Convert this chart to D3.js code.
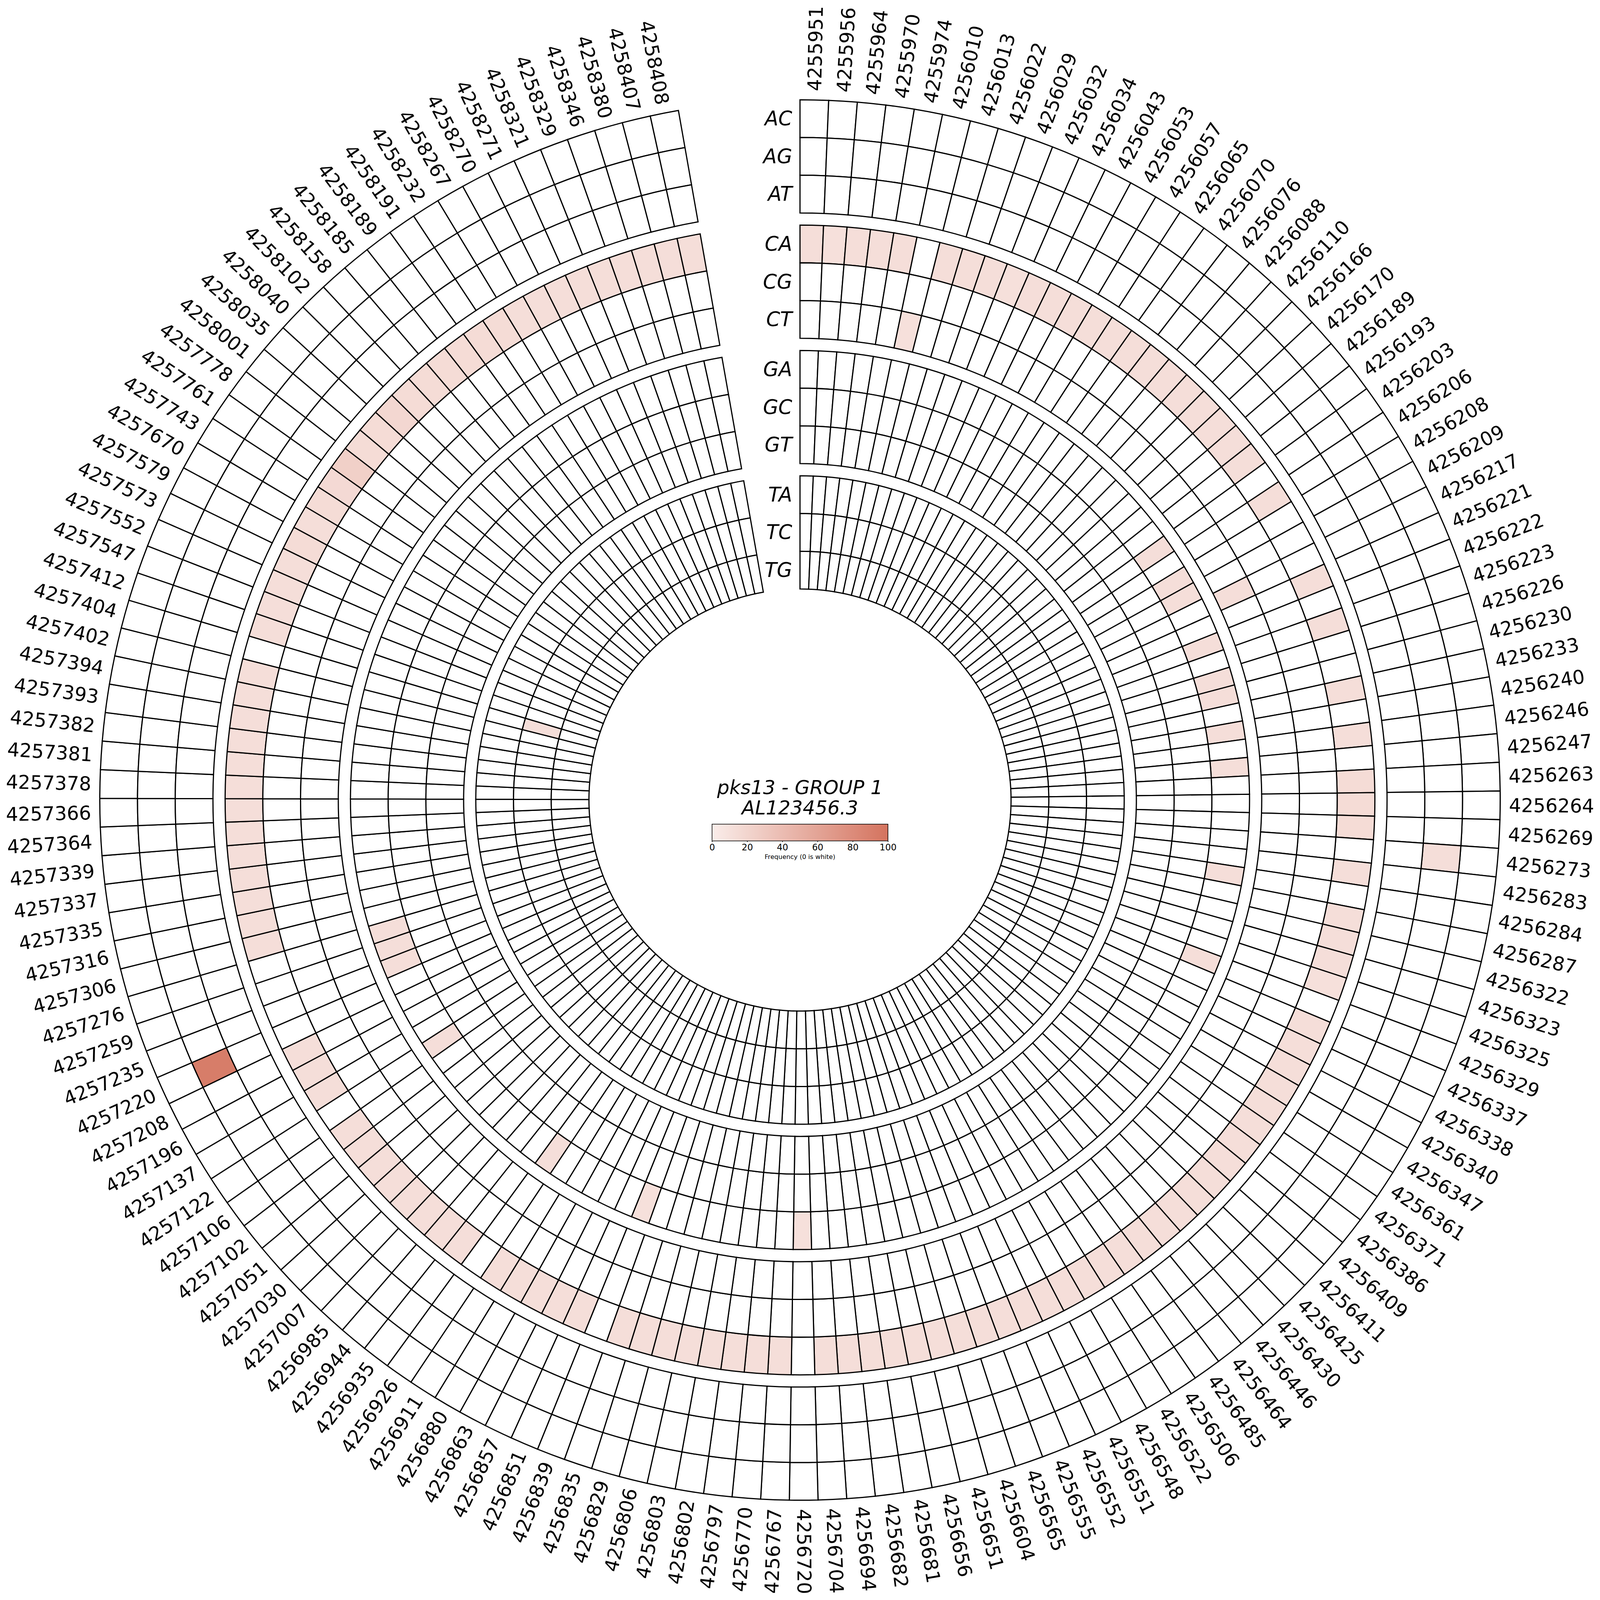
<!DOCTYPE html>
<html>
<head>
<meta charset="UTF-8">
<title>pks13 - GROUP 1</title>
<script src="https://d3js.org/d3.v7.min.js"></script>
<style>
  html, body { margin: 0; padding: 0; background: #fff; overflow: hidden; }
  svg { display: block; width: 100vw; height: 100vh; }
  text { font-family: "DejaVu Sans", sans-serif; }
</style>
</head>
<body>
<svg id="chart" viewBox="0 0 6766 6766" preserveAspectRatio="xMidYMid meet"></svg>
<script>

// genome positions, clockwise from the top
var positions = [
  "4255951","4255956","4255964","4255970","4255974","4256010","4256013","4256022","4256029","4256032",
  "4256034","4256043","4256053","4256057","4256065","4256070","4256076","4256088","4256110","4256166",
  "4256170","4256189","4256193","4256203","4256206","4256208","4256209","4256217","4256221","4256222",
  "4256223","4256226","4256230","4256233","4256240","4256246","4256247","4256263","4256264","4256269",
  "4256273","4256283","4256284","4256287","4256322","4256323","4256325","4256329","4256337","4256338",
  "4256340","4256347","4256361","4256371","4256386","4256409","4256411","4256425","4256430","4256446",
  "4256464","4256485","4256506","4256522","4256548","4256551","4256552","4256555","4256565","4256604",
  "4256651","4256656","4256681","4256682","4256694","4256704","4256720","4256767","4256770","4256797",
  "4256802","4256803","4256806","4256829","4256835","4256839","4256851","4256857","4256863","4256880",
  "4256911","4256926","4256935","4256944","4256985","4257007","4257030","4257051","4257102","4257106",
  "4257122","4257137","4257196","4257208","4257220","4257235","4257259","4257276","4257306","4257316",
  "4257335","4257337","4257339","4257364","4257366","4257378","4257381","4257382","4257393","4257394",
  "4257402","4257404","4257412","4257547","4257552","4257573","4257579","4257670","4257743","4257761",
  "4257778","4258001","4258035","4258040","4258102","4258158","4258185","4258189","4258191","4258232",
  "4258267","4258270","4258271","4258321","4258329","4258346","4258380","4258407","4258408"
];

// tracks, outer to inner
var mutations = ["AC","AG","AT","CA","CG","CT","GA","GC","GT","TA","TC","TG"];

// the one substitution seen at each position
var hitType = [
  "CA","CA","CA","CA","CA","CT","CA","CA","CA","CA",
  "CA","CA","CA","CA","CA","CA","CA","CA","CA","CA",
  "CA","CA","CA","GA","CA","GA","GA","CT","CA","GA",
  "CA","GA","GA","CA","GA","CA","GA","CA","CA","CA",
  "AG","CA","GA","CA","CA","CA","CA","GA","CA","CA",
  "CA","CA","CA","CA","CA","CA","CA","CA","CA","CA",
  "CA","CA","CA","CA","CA","CA","CA","CA","CA","CA",
  "CA","CA","CA","CA","CA","CA","GA","CA","CA","CA",
  "CA","CA","CA","CA","CA","GA","CA","CA","CA","CA",
  "CA","GA","CA","CA","CA","CA","CA","CA","CA","CA",
  "GA","CA","CA","CA","AG","GA","GA","GA","CA","CA",
  "CA","CA","CA","CA","CA","CA","CA","CA","CA","CA",
  "CA","TC","CA","CA","CA","CA","CA","CA","CA","CA",
  "CA","CA","CA","CA","CA","CA","CA","CA","CA","CA",
  "CA","CA","CA","CA","CA","CA","CA","CA","CA"
];

// its frequency (%)
var hitFreq = [
  12, 11, 12, 12, 12, 11, 12, 12, 12, 11,
  12, 12, 12, 12, 12, 12, 12, 12, 12, 12,
  12, 12, 12, 12, 12, 12, 12, 12, 12, 12,
  12, 12, 12, 12, 12, 12, 12, 14, 14, 14,
  12, 12, 12, 12, 12, 12, 11, 12, 12, 12,
  12, 12, 12, 12, 12, 12, 12, 12, 12, 12,
  12, 12, 12, 12, 12, 12, 12, 12, 12, 12,
  12, 12, 12, 12, 12, 12, 11, 12, 12, 12,
  12, 12, 12, 12, 12, 11, 12, 12, 12, 12,
  12, 12, 12, 12, 12, 12, 12, 12, 12, 12,
  12, 12, 12, 12, 92, 12, 12, 12, 12, 12,
  12, 12, 12, 12, 12, 12, 12, 12, 12, 12,
  12, 12, 12, 12, 12, 12, 14, 12, 14, 16,
  24, 14, 14, 18, 14, 14, 14, 14, 14, 14,
  12, 12, 12, 12, 12, 12, 12, 12, 12
];

var cbTicks = [0, 20, 40, 60, 80, 100];

var cx = 3383, cy = 3383;
var rOuter = 2961, rowW = 159.5, groupStep = 530;
var rLabel = 2998;

var svg = d3.select("#chart");

var color = d3.scaleLinear()
  .domain([0, 100])
  .range(["#faedea", "#d4735e"]);

var ang = d3.scaleBand()
  .domain(positions)
  .range([0, 350 / 180 * Math.PI]);

function rOut(j) {
  return rOuter - Math.floor(j / 3) * groupStep - (j % 3) * rowW;
}

var cells = [];
positions.forEach(function(p, i) {
  mutations.forEach(function(m, j) {
    cells.push({pos: p, j: j, v: hitType[i] == m ? hitFreq[i] : 0});
  });
});

var arc = d3.arc()
  .innerRadius(function(d) { return rOut(d.j) - rowW; })
  .outerRadius(function(d) { return rOut(d.j); })
  .startAngle(function(d) { return ang(d.pos); })
  .endAngle(function(d) { return ang(d.pos) + ang.bandwidth(); });

var g = svg.append("g").attr("transform", "translate(" + cx + "," + cy + ")");

g.selectAll("path.cell")
  .data(cells)
  .enter().append("path")
    .attr("class", "cell")
    .attr("d", arc)
    .style("fill", function(d) { return d.v > 0 ? color(d.v) : "#ffffff"; })
    .style("stroke", "black")
    .style("stroke-width", 5);

// position labels
function midDeg(p) { return (ang(p) + ang.bandwidth() / 2) * 180 / Math.PI; }

g.selectAll("text.pos")
  .data(positions)
  .enter().append("text")
    .attr("class", "pos")
    .attr("transform", function(d) {
      var a = midDeg(d);
      var t = "rotate(" + (a - 90) + ") translate(" + rLabel + ",0)";
      return a < 180 ? t : t + " rotate(180)";
    })
    .attr("text-anchor", function(d) { return midDeg(d) < 180 ? "start" : "end"; })
    .attr("dominant-baseline", "central")
    .style("font-size", "81px")
    .text(function(d) { return d; });

// track names
g.selectAll("text.track")
  .data(mutations)
  .enter().append("text")
    .attr("class", "track")
    .attr("x", -33)
    .attr("y", function(d, j) { return -(rOut(j) - rowW / 2); })
    .attr("text-anchor", "end")
    .attr("dominant-baseline", "central")
    .style("font-size", "84px")
    .style("font-style", "italic")
    .text(function(d) { return d; });

// title
var title = ["pks13 - GROUP 1", "AL123456.3"];
svg.selectAll("text.title")
  .data(title)
  .enter().append("text")
    .attr("class", "title")
    .attr("x", cx)
    .attr("y", function(d, i) { return 3358 + i * 86; })
    .attr("text-anchor", "middle")
    .style("font-size", "82px")
    .style("font-style", "italic")
    .text(function(d) { return d; });

// colour bar
var cbX = d3.scaleLinear().domain([0, 100]).range([3011, 3755]);
var cbTop = 3485, cbH = 71;

var grad = svg.append("defs").append("linearGradient")
  .attr("id", "cbGrad")
  .attr("x1", "0%").attr("x2", "100%").attr("y1", "0%").attr("y2", "0%");
grad.selectAll("stop")
  .data(cbTicks)
  .enter().append("stop")
    .attr("offset", function(d) { return d + "%"; })
    .attr("stop-color", function(d) { return color(d); });

svg.append("rect")
  .attr("x", cbX(0))
  .attr("y", cbTop)
  .attr("width", cbX(100) - cbX(0))
  .attr("height", cbH)
  .style("fill", "url(#cbGrad)")
  .style("stroke", "black")
  .style("stroke-width", 2.5);

var cbAxis = svg.append("g")
  .attr("transform", "translate(0," + (cbTop + cbH) + ")")
  .call(d3.axisBottom(cbX).tickValues(cbTicks).tickSize(5).tickPadding(9));
cbAxis.select(".domain").remove();
cbAxis.selectAll("line").style("stroke-width", 2.5);
cbAxis.selectAll("text")
  .style("font-family", "DejaVu Sans")
  .style("font-size", "37.5px");

svg.append("text")
  .attr("x", cx)
  .attr("y", 3632)
  .attr("text-anchor", "middle")
  .style("font-size", "27px")
  .text("Frequency (0 is white)");

</script>
</body>
</html>
